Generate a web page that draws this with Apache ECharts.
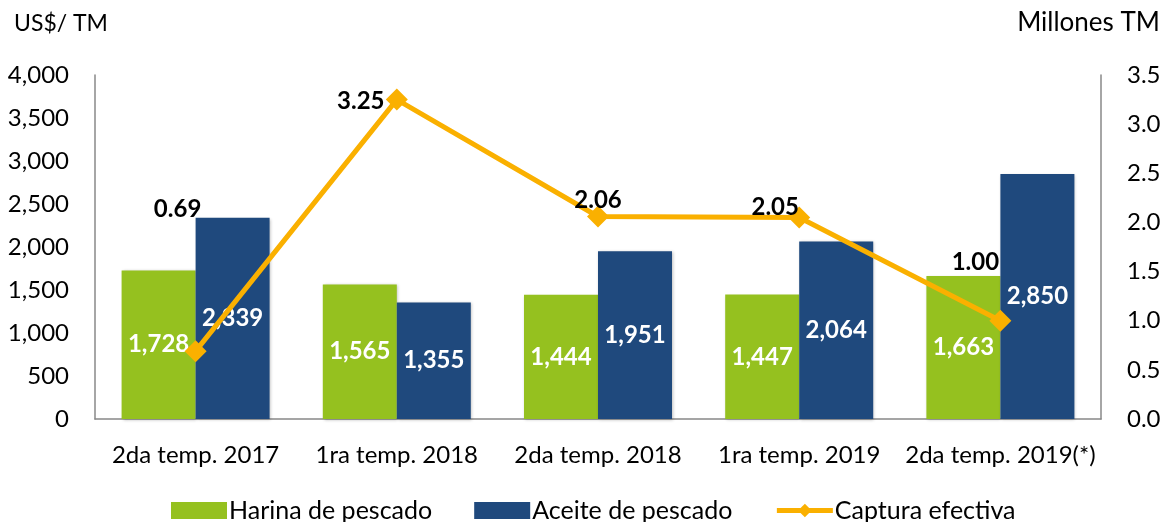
<!DOCTYPE html>
<html><head><meta charset="utf-8">
<script src="https://cdn.jsdelivr.net/npm/echarts@6/dist/echarts.min.js"></script>
<style>html,body{margin:0;padding:0;background:#fff}#c{width:1172px;height:522px}</style>
</head><body><div id="c"></div>
<script>
const categories = ['2da temp. 2017','1ra temp. 2018','2da temp. 2018','1ra temp. 2019','2da temp. 2019(*)'];
const harina = [1728, 1565, 1444, 1447, 1663];
const aceite = [2339, 1355, 1951, 2064, 2850];
const captura = [0.69, 3.25, 2.06, 2.05, 1.00];
const leftTicks = [0, 4000, 500];
const rightTicks = [0, 3.5, 0.5];

const FONT = 'Lato';
const lineLabelOffsets = [[-18,-142],[-36,2],[0,-16],[-24,-10],[-25,-58]];

const chart = echarts.init(document.getElementById('c'));
chart.setOption({
  animation: false,
  textStyle: {fontFamily: FONT},
  grid: {left: 95, right: 71, top: 75, bottom: 103},
  legend: {
    bottom: -6, left: 166, itemGap: 42, itemWidth: 56, itemHeight: 17,
    textStyle: {fontFamily: FONT, fontSize: 25, color: '#000', padding: [0,0,0,-3]},
    data: [
      {name: 'Harina de pescado', icon: 'rect'},
      {name: 'Aceite de pescado', icon: 'rect'},
      {name: 'Captura efectiva', lineStyle: {width: 5}}
    ]
  },
  graphic: [
    {type: 'text', left: 14, top: 12, style: {text: 'US$/ TM', font: '23px Lato', fill: '#000'}},
    {type: 'text', right: 12, top: 10, style: {text: 'Millones TM', font: '26px Lato', fill: '#000'}}
  ],
  xAxis: {
    type: 'category', data: categories,
    axisLine: {lineStyle: {color: '#888', width: 1.5}},
    axisTick: {show: false},
    axisLabel: {fontFamily: FONT, fontSize: 24, color: '#000', margin: 24, interval: 0}
  },
  yAxis: [
    {type: 'value', min: leftTicks[0], max: leftTicks[1], interval: leftTicks[2],
     axisLine: {show: true, lineStyle: {color: '#888', width: 1.5}},
     axisTick: {show: false}, splitLine: {show: false},
     axisLabel: {fontFamily: FONT, fontSize: 24, color: '#000', margin: 26,
       formatter: v => v.toLocaleString('en-US')}},
    {type: 'value', min: rightTicks[0], max: rightTicks[1], interval: rightTicks[2], position: 'right',
     axisLine: {show: true, lineStyle: {color: '#888', width: 1.5}},
     axisTick: {show: false}, splitLine: {show: false},
     axisLabel: {fontFamily: FONT, fontSize: 24, color: '#000', margin: 26,
       formatter: v => v.toFixed(1)}}
  ],
  series: [
    {name: 'Harina de pescado', type: 'bar', data: harina, barWidth: 74, barGap: '0%',
     itemStyle: {color: '#95C11F', shadowColor: 'rgba(0,0,0,0.25)', shadowBlur: 3, shadowOffsetX: 1, shadowOffsetY: 1},
     label: {show: true, position: 'inside', color: '#fff', fontWeight: 'bold', fontFamily: FONT, fontSize: 24,
       formatter: p => p.value.toLocaleString('en-US')}},
    {name: 'Aceite de pescado', type: 'bar', data: aceite, barWidth: 74, barGap: '0%',
     itemStyle: {color: '#1F497D', shadowColor: 'rgba(0,0,0,0.25)', shadowBlur: 3, shadowOffsetX: 1, shadowOffsetY: 1},
     label: {show: true, position: 'inside', color: '#fff', fontWeight: 'bold', fontFamily: FONT, fontSize: 24,
       formatter: p => p.value.toLocaleString('en-US')}},
    {name: 'Captura efectiva', type: 'line', yAxisIndex: 1, z: 5,
     data: captura.map((v, i) => ({value: v, label: {offset: lineLabelOffsets[i]}})),
     symbol: 'diamond', symbolSize: 22,
     lineStyle: {color: '#FAB000', width: 5},
     itemStyle: {color: '#FAB000'},
     label: {show: true, position: 'inside', color: '#000', fontWeight: 'bold', fontFamily: FONT, fontSize: 24,
       formatter: p => p.value.toFixed(2)}}
  ]
});
</script></body></html>
